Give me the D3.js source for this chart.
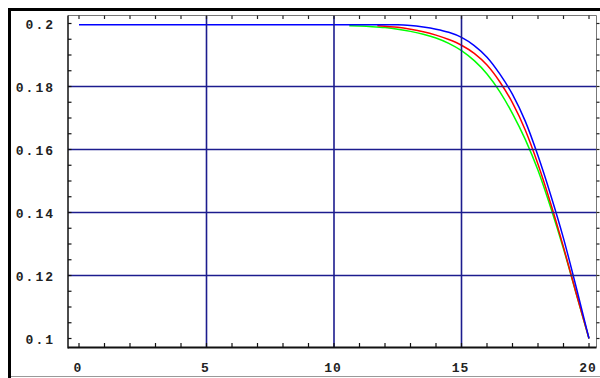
<!DOCTYPE html>
<html>
<head>
<meta charset="utf-8">
<script src="https://cdn.jsdelivr.net/npm/d3@7"></script>
<style>
  body { margin: 0; background: #fff; }
  svg { display: block; }
</style>
</head>
<body>
<div id="vi1"></div>
<script>
const W = 600, H = 378;

// tick values and labels
const xTicks = [0, 5, 10, 15, 20];
const xLabels = ["0", "5", "10", "15", "20"];
const yTicks = [0.1, 0.12, 0.14, 0.16, 0.18, 0.2];
const yLabels = ["0.1", "0.12", "0.14", "0.16", "0.18", "0.2"];
const xGrid = [5, 10, 15];
const yGrid = [0.12, 0.14, 0.16, 0.18];

// series
const greenX = [10.6, 11, 11.5, 12, 12.5, 13, 13.5, 14, 14.5, 15, 15.5, 16, 16.5, 17, 17.5, 18, 18.5, 19, 19.5, 20];
const greenY = [0.1993, 0.1992, 0.1990, 0.1987, 0.1982, 0.1975, 0.1966, 0.1954, 0.1937, 0.1914, 0.1882, 0.1840, 0.1784, 0.1714, 0.1632, 0.1534, 0.1415, 0.1285, 0.1142, 0.1];

const redX = [11.7, 12, 12.5, 13, 13.5, 14, 14.5, 15, 15.5, 16, 16.5, 17, 17.5, 18, 18.5, 19, 19.5, 20];
const redY = [0.1993, 0.1991, 0.1988, 0.1982, 0.1974, 0.1963, 0.1949, 0.1931, 0.1905, 0.1868, 0.1815, 0.1748, 0.1662, 0.1553, 0.1428, 0.1290, 0.1143, 0.1];

const blueX = [0, 12.5, 13, 13.5, 14, 14.5, 15, 15.5, 16, 16.5, 17, 17.5, 18, 18.5, 19, 19.5, 20];
const blueY = [0.1996, 0.1996, 0.1994, 0.1989, 0.1982, 0.1972, 0.1956, 0.1930, 0.1893, 0.1840, 0.1775, 0.1690, 0.1580, 0.1455, 0.1318, 0.1162, 0.1];

const frame = { left: 68, top: 15.5, right: 596.5, bottom: 347.5 };

const svg = d3.select("#vi1")
  .append("svg")
    .attr("width", W)
    .attr("height", H);

const x = d3.scaleLinear().domain([0, 20]).range([79, 589]);
const y = d3.scaleLinear().domain([0.1, 0.2]).range([338.5, 23.5]);

// outer window border
svg.append("line")
  .attr("x1", 8).attr("x2", W).attr("y1", 9.5).attr("y2", 9.5)
  .attr("stroke", "#000").attr("stroke-width", 3);
svg.append("line")
  .attr("x1", 9.5).attr("x2", 9.5).attr("y1", 8).attr("y2", H)
  .attr("stroke", "#000").attr("stroke-width", 3);
svg.append("line")
  .attr("x1", 11).attr("x2", W).attr("y1", 376.5).attr("y2", 376.5)
  .attr("stroke", "#999").attr("stroke-width", 1);

// curves
const series = [
  { xs: greenX, ys: greenY, color: "#00ff00" },
  { xs: redX, ys: redY, color: "#ff0000" },
  { xs: blueX, ys: blueY, color: "#0000ff" }
];

svg.selectAll(".curve")
  .data(series)
  .join("path")
    .attr("class", "curve")
    .attr("fill", "none")
    .attr("stroke", d => d.color)
    .attr("stroke-width", 1.5)
    .attr("d", d => d3.line()
      .curve(d3.curveMonotoneX)
      .x((v, i) => x(v))
      .y((v, i) => y(d.ys[i]))
      (d.xs));

// grid lines
const gridColor = "#1c1c8e";
svg.selectAll(".vgrid")
  .data(xGrid)
  .join("line")
    .attr("x1", d => x(d)).attr("x2", d => x(d))
    .attr("y1", frame.top).attr("y2", frame.bottom)
    .attr("stroke", gridColor).attr("stroke-width", 1.6);
svg.selectAll(".hgrid")
  .data(yGrid)
  .join("line")
    .attr("x1", frame.left).attr("x2", frame.right)
    .attr("y1", d => y(d)).attr("y2", d => y(d))
    .attr("stroke", gridColor).attr("stroke-width", 1.6);

// frame
svg.append("line")
  .attr("x1", frame.left).attr("x2", frame.right)
  .attr("y1", frame.top).attr("y2", frame.top)
  .attr("stroke", "#777").attr("stroke-width", 1);
svg.append("line")
  .attr("x1", frame.right).attr("x2", frame.right)
  .attr("y1", frame.top).attr("y2", frame.bottom)
  .attr("stroke", "#777").attr("stroke-width", 1);
svg.append("line")
  .attr("x1", frame.left).attr("x2", frame.left)
  .attr("y1", frame.top).attr("y2", frame.bottom + 1)
  .attr("stroke", "#111").attr("stroke-width", 1.5);
svg.append("line")
  .attr("x1", frame.left).attr("x2", frame.right)
  .attr("y1", frame.bottom).attr("y2", frame.bottom)
  .attr("stroke", "#111").attr("stroke-width", 2);

// minor ticks, all four sides
const xMinor = d3.range(0, 21, 1);
const yMinor = d3.range(0, 21).map(i => 0.1 + i * 0.005);

svg.selectAll(".xtickB")
  .data(xMinor)
  .join("line")
    .attr("x1", d => x(d)).attr("x2", d => x(d))
    .attr("y1", frame.bottom).attr("y2", frame.bottom - 4.5)
    .attr("stroke", "#111").attr("stroke-width", 1.2);
svg.selectAll(".xtickT")
  .data(xMinor)
  .join("line")
    .attr("x1", d => x(d)).attr("x2", d => x(d))
    .attr("y1", frame.top).attr("y2", frame.top + 3.5)
    .attr("stroke", "#222").attr("stroke-width", 1.2);
svg.selectAll(".ytickL")
  .data(yMinor)
  .join("line")
    .attr("x1", frame.left).attr("x2", frame.left + 3.5)
    .attr("y1", d => y(d)).attr("y2", d => y(d))
    .attr("stroke", "#111").attr("stroke-width", 1.2);
svg.selectAll(".ytickR")
  .data(yMinor)
  .join("line")
    .attr("x1", frame.right).attr("x2", frame.right + 3)
    .attr("y1", d => y(d)).attr("y2", d => y(d))
    .attr("stroke", "#222").attr("stroke-width", 1.2);

// tick labels
const font = "'Liberation Mono', 'DejaVu Sans Mono', monospace";
svg.selectAll(".xlabel")
  .data(xTicks)
  .join("text")
    .attr("x", (d, i) => x(d) - 1)
    .attr("y", 372)
    .attr("text-anchor", "middle")
    .attr("font-family", font)
    .attr("font-size", "13px")
    .attr("font-weight", "bold")
    .attr("letter-spacing", "1px")
    .attr("fill", "#222")
    .text((d, i) => xLabels[i]);

svg.selectAll(".ylabel")
  .data(yTicks)
  .join("text")
    .attr("x", 55)
    .attr("y", d => y(d) + 5)
    .attr("text-anchor", "end")
    .attr("font-family", font)
    .attr("font-size", "13px")
    .attr("font-weight", "bold")
    .attr("letter-spacing", "2px")
    .attr("fill", "#222")
    .text((d, i) => yLabels[i]);
</script>
</body>
</html>
